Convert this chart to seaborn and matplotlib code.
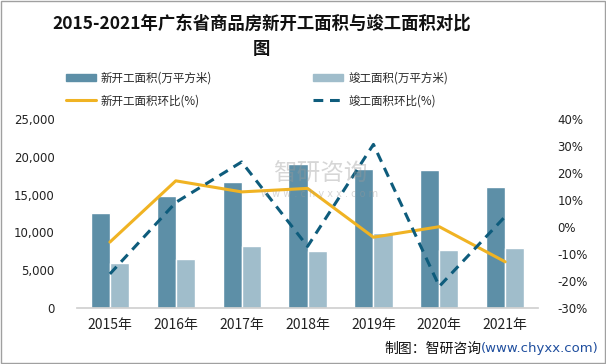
import numpy as np
import pandas as pd
import matplotlib
matplotlib.use("Agg")
import matplotlib.pyplot as plt
import seaborn as sns
from matplotlib.lines import Line2D
from matplotlib.patches import Patch, Rectangle

years = ["2015年", "2016年", "2017年", "2018年", "2019年", "2020年", "2021年"]
new_start_area = [12600, 14800, 16700, 19000, 18400, 18300, 16000]
completed_area = [6000, 6500, 8200, 7500, 9900, 7700, 7900]
new_start_qoq = [-5.6, 17.1, 13.0, 14.3, -3.8, 0.1, -12.9]
completed_qoq = [-17.4, 9.1, 24.1, -7.2, 30.6, -22.0, 3.9]

left_ticks = [0, 5000, 10000, 15000, 20000, 25000]
right_ticks = [-30, -20, -10, 0, 10, 20, 30, 40]

name_new = "新开工面积(万平方米)"
name_comp = "竣工面积(万平方米)"
name_new_pct = "新开工面积环比(%)"
name_comp_pct = "竣工面积环比(%)"

c_dark = "#5D8FA7"
c_light = "#A0BDCB"
c_yellow = "#F0B323"
c_teal = "#0E5C7C"

sns.set_theme(style="white")
plt.rcParams["font.family"] = ["Noto Sans CJK SC", "DejaVu Sans"]

df = pd.DataFrame({
    "year": years * 2,
    "value": new_start_area + completed_area,
    "series": [name_new] * len(years) + [name_comp] * len(years),
})

fig = plt.figure(figsize=(6.06, 3.64), dpi=100)
ax = fig.add_axes([0.127, 0.154, 0.761, 0.519])

sns.barplot(data=df, x="year", y="value", hue="series", ax=ax,
            palette=[c_dark, c_light], width=0.58, gap=0, saturation=1,
            legend=False)

ax.set_ylim(0, 25000)
ax.set_xlim(-0.5, len(years) - 0.5)
ax.set_yticks(left_ticks)
ax.set_yticklabels([f"{v:,}" for v in left_ticks], family="DejaVu Sans",
                   fontsize=8.5, color="#222222")
ax.set_xlabel("")
ax.set_ylabel("")
for s in ["top", "left", "right"]:
    ax.spines[s].set_visible(False)
ax.spines["bottom"].set_color("#D0D0D0")
ax.tick_params(axis="y", length=0, pad=16)
ax.tick_params(axis="x", length=0, pad=7, labelsize=10, colors="#222222")

ax2 = ax.twinx()
xpos = np.arange(len(years))
sns.lineplot(x=xpos, y=new_start_qoq, ax=ax2, color=c_yellow, linewidth=2.2)
sns.lineplot(x=xpos, y=completed_qoq, ax=ax2, color=c_teal, linewidth=2.2,
             linestyle=(0, (3.2, 2.2)))
ax2.set_ylim(-30, 40)
ax2.set_yticks(right_ticks)
ax2.set_yticklabels([f"{v}%" for v in right_ticks], family="DejaVu Sans",
                    fontsize=8.5, color="#222222")
ax2.tick_params(axis="y", length=0, pad=14)
for s in ["top", "left", "right", "bottom"]:
    ax2.spines[s].set_visible(False)
ax2.set_xlim(-0.5, len(years) - 0.5)

# watermark
fig.text(0.528, 0.52, "智研咨询", fontsize=17, color="#9A9A9A", alpha=0.4,
         ha="center", va="center")
fig.text(0.528, 0.468, "w w w . c h y x x . c o m", fontsize=7, color="#9A9A9A",
         alpha=0.4, ha="center", va="center", family="DejaVu Sans")

# title
fig.text(0.432, 0.935, "2015-2021年广东省商品房新开工面积与竣工面积对比", fontsize=12.5,
         fontweight="bold", ha="center", va="center", color="#111111")
fig.text(0.432, 0.865, "图", fontsize=12.5, fontweight="bold", ha="center",
         va="center", color="#111111")

handles = [Patch(color=c_dark), Line2D([], [], color=c_yellow, lw=2.2),
           Patch(color=c_light), Line2D([], [], color=c_teal, lw=2.2, ls=(0, (3.2, 2.2)))]
labels = [name_new, name_new_pct, name_comp, name_comp_pct]
leg = fig.legend(handles, labels, ncol=2, loc="center left",
                 bbox_to_anchor=(0.092, 0.755), frameon=False, fontsize=8.3,
                 handlelength=2.6, handleheight=0.6, columnspacing=8.8,
                 labelspacing=0.85, handletextpad=0.4)

# footer
t1 = fig.text(0.634, 0.042, "制图：智研咨询", fontsize=10, ha="left", va="center",
              color="#111111")
fig.canvas.draw()
bb = t1.get_window_extent()
x1 = fig.transFigure.inverted().transform((bb.x1, bb.y0))[0]
fig.text(x1, 0.042, "(www.chyxx.com)", fontsize=9.5, ha="left", va="center",
         color="#1F4E9E", family="DejaVu Sans")

fig.patches.append(Rectangle((0.001, 0.002), 0.997, 0.995, transform=fig.transFigure,
                             fill=False, edgecolor="#A0A0A0", lw=1))

fig.savefig("out.png", dpi=100)
